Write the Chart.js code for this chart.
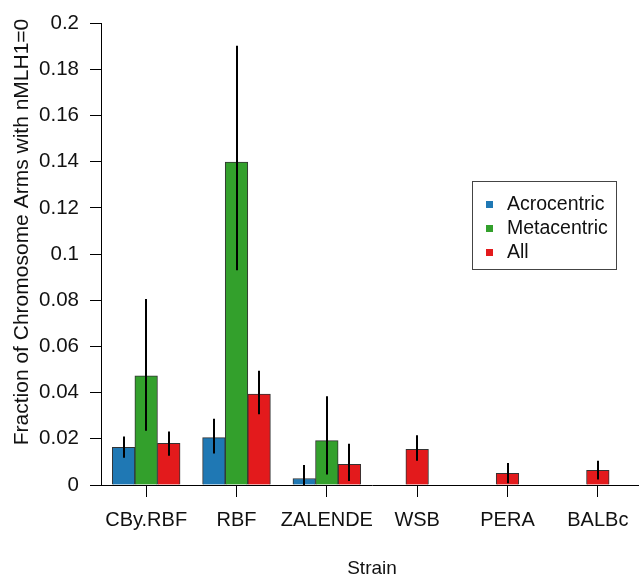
<!DOCTYPE html>
<html>
<head>
<meta charset="utf-8">
<script src="https://cdn.jsdelivr.net/npm/chart.js@4.4.0/dist/chart.umd.min.js"></script>
<style>
  html, body { margin: 0; padding: 0; background: #fff; overflow: hidden; }
  #wrap { width: 643px; height: 577px; }
</style>
</head>
<body>
<div id="wrap"><canvas id="c" width="643" height="577"></canvas></div>
<script>
// ---- Data ----
const strains = ["CBy.RBF", "RBF", "ZALENDE", "WSB", "PERA", "BALBc"];
const seriesNames = ["Acrocentric", "Metacentric", "All"];
const acroValues = [0.0163, 0.0205, 0.0028, null, null, null];
const acroLow    = [0.0118, 0.0136, 0.0000, null, null, null];
const acroHigh   = [0.0210, 0.0287, 0.0087, null, null, null];
const metaValues = [0.0473, 0.1399, 0.0192, null, null, null];
const metaLow    = [0.0235, 0.0930, 0.0046, null, null, null];
const metaHigh   = [0.0806, 0.1903, 0.0384, null, null, null];
const allValues  = [0.0180, 0.0394, 0.0090, 0.0154, 0.0051, 0.0064];
const allLow     = [0.0127, 0.0306, 0.0017, 0.0105, 0.0008, 0.0024];
const allHigh    = [0.0232, 0.0495, 0.0179, 0.0216, 0.0095, 0.0105];
const yTicks = [0, 0.02, 0.04, 0.06, 0.08, 0.1, 0.12, 0.14, 0.16, 0.18, 0.2];
const yTitle = "Fraction of Chromosome Arms with nMLH1=0";
const xTitle = "Strain";

const colors = ["#1F78B4", "#33A02C", "#E31A1C"];
const FONT = '"Liberation Sans", Arial, Helvetica, sans-serif';

const errorSets = [
  {low: acroLow, high: acroHigh},
  {low: metaLow, high: metaHigh},
  {low: allLow, high: allHigh}
];

const errorBarPlugin = {
  id: 'errorBars',
  afterDatasetsDraw(chart) {
    const ctx = chart.ctx;
    const y = chart.scales.y;
    ctx.save();
    ctx.strokeStyle = '#000';
    ctx.lineWidth = 2;
    chart.data.datasets.forEach((ds, di) => {
      const meta = chart.getDatasetMeta(di);
      const err = errorSets[di];
      meta.data.forEach((bar, i) => {
        if (ds.data[i] == null) return;
        const lo = err.low[i], hi = err.high[i];
        if (lo == null || hi == null) return;
        const x = Math.round(bar.x);
        ctx.beginPath();
        ctx.moveTo(x, y.getPixelForValue(lo));
        ctx.lineTo(x, y.getPixelForValue(hi));
        ctx.stroke();
      });
    });
    ctx.restore();
  }
};

const decorPlugin = {
  id: 'decor',
  afterDraw(chart) {
    const ctx = chart.ctx;
    const area = chart.chartArea;
    ctx.save();
    ctx.fillStyle = '#111';
    ctx.textAlign = 'center';
    ctx.textBaseline = 'middle';
    // x title
    ctx.font = '19px ' + FONT;
    ctx.fillText(xTitle, (area.left + area.right) / 2, 569);
    // y title
    ctx.save();
    ctx.font = '21px ' + FONT;
    ctx.translate(22, 232);
    ctx.rotate(-Math.PI / 2);
    ctx.fillText(yTitle, 0, 0);
    ctx.restore();
    // legend
    const bx = 472.5, by = 181.5, bw = 144, bh = 88;
    ctx.strokeStyle = '#444';
    ctx.lineWidth = 1;
    ctx.strokeRect(bx, by, bw, bh);
    const rows = [204.5, 228.5, 252.5];
    ctx.textAlign = 'left';
    ctx.font = '19.5px ' + FONT;
    chart.data.datasets.forEach((ds, i) => {
      ctx.fillStyle = ds.backgroundColor;
      ctx.fillRect(486, rows[i] - 3.5, 7, 7);
      ctx.fillStyle = '#111';
      ctx.fillText(ds.label, 507, rows[i]);
    });
    ctx.restore();
  }
};

new Chart(document.getElementById('c'), {
  type: 'bar',
  data: {
    labels: strains,
    datasets: [
      {label: seriesNames[0], data: acroValues, backgroundColor: colors[0]},
      {label: seriesNames[1], data: metaValues, backgroundColor: colors[1]},
      {label: seriesNames[2], data: allValues, backgroundColor: colors[2]}
    ].map(d => Object.assign(d, {
      borderColor: '#333', borderWidth: 1, barThickness: 22.6, skipNull: true
    }))
  },
  options: {
    responsive: false,
    devicePixelRatio: 1,
    animation: false,
    layout: {padding: {top: 16, right: 0, left: 0, bottom: 0}},
    plugins: {legend: {display: false}, tooltip: {enabled: false}},
    scales: {
      x: {
        offset: true,
        grid: {offset: false, drawOnChartArea: false, drawTicks: true, tickLength: 12, color: '#000', lineWidth: 1},
        border: {display: true, color: '#000', width: 1},
        ticks: {color: '#111', font: {family: FONT, size: 20}, padding: 11, maxRotation: 0, autoSkip: false},
        afterFit(scale) { scale.height = 577 - 485; }
      },
      y: {
        min: 0, max: 0.2,
        afterBuildTicks(scale) { scale.ticks = yTicks.map(v => ({value: v})); },
        grid: {drawOnChartArea: false, drawTicks: true, tickLength: 11, color: '#000', lineWidth: 1},
        border: {display: true, color: '#000', width: 1},
        ticks: {color: '#111', font: {family: FONT, size: 20.5}, padding: 11,
          callback: v => String(+(+v).toFixed(2))},
        afterFit(scale) { scale.width = 101; }
      }
    }
  },
  plugins: [errorBarPlugin, decorPlugin]
});
</script>
</body>
</html>
